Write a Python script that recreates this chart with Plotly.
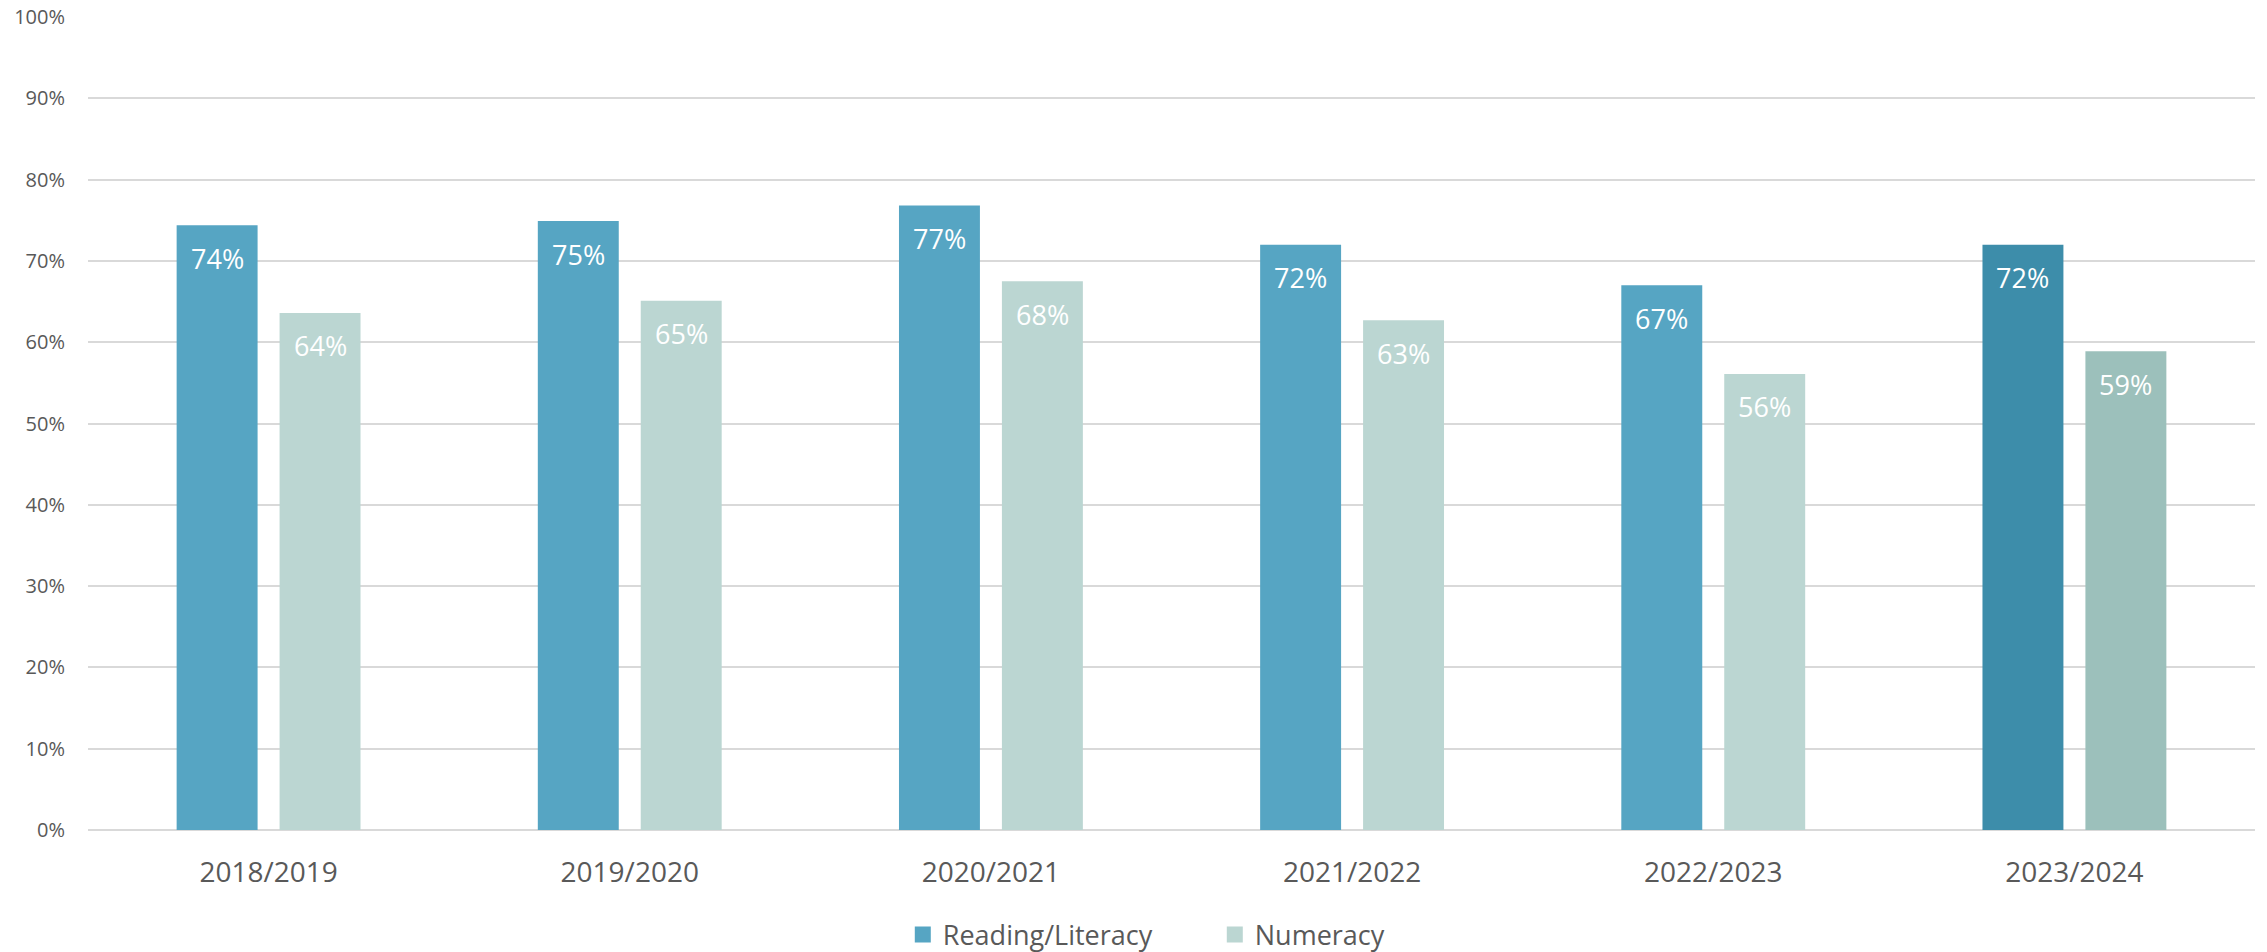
import plotly.graph_objects as go

years = ["2018/2019", "2019/2020", "2020/2021", "2021/2022", "2022/2023", "2023/2024"]
reading = [74.4, 74.9, 76.8, 72.0, 67.0, 72.0]
numeracy = [63.6, 65.1, 67.5, 62.7, 56.1, 58.9]
ytick_vals = [0, 10, 20, 30, 40, 50, 60, 70, 80, 90, 100]
ytick_text = [f"{v}%" for v in ytick_vals]

READ_C, READ_LAST = "#56A5C3", "#3D8DAA"
NUM_C, NUM_LAST = "#BBD6D2", "#9CC0BB"
read_colors = [READ_C] * (len(years) - 1) + [READ_LAST]
num_colors = [NUM_C] * (len(years) - 1) + [NUM_LAST]

FONT = "Open Sans"
TXT = "#595959"

fig = go.Figure()
fig.add_trace(go.Bar(x=years, y=reading, name="Reading/Literacy", showlegend=False,
                     marker=dict(color=read_colors, line=dict(width=0))))
fig.add_trace(go.Bar(x=years, y=numeracy, name="Numeracy", showlegend=False,
                     marker=dict(color=num_colors, line=dict(width=0))))
# legend entries with larger square swatches
for name, col in (("Reading/Literacy", READ_C), ("Numeracy", NUM_C)):
    fig.add_trace(go.Scatter(x=[None], y=[None], mode="markers", name=name,
                             marker=dict(symbol="square", size=17, color=col)))

annotations = []
for i, yr in enumerate(years):
    for vals, shift in ((reading, -51.5), (numeracy, 51.5)):
        annotations.append(dict(
            x=yr, y=vals[i], xref="x", yref="y", text=f"{round(vals[i])}%",
            showarrow=False, xshift=shift, yshift=-33, yanchor="middle",
            font=dict(family=FONT, size=27, color="white")))

fig.update_layout(
    width=2267, height=952,
    margin=dict(l=88, r=12, t=17, b=122, autoexpand=False),
    paper_bgcolor="white", plot_bgcolor="white",
    barmode="group", bargap=0.43, bargroupgap=0.2136,
    font=dict(family=FONT, color=TXT),
    annotations=annotations,
    legend=dict(orientation="h", x=0.376, xanchor="left", y=-0.129, yanchor="middle",
                font=dict(family=FONT, size=27, color=TXT),
                entrywidth=267, entrywidthmode="pixels", itemwidth=30),
    showlegend=True,
)
fig.update_xaxes(tickfont=dict(family=FONT, size=28, color=TXT), showline=False,
                 ticks="", ticklabelstandoff=23)
fig.update_yaxes(range=[0, 100], tickvals=ytick_vals, ticktext=ytick_text,
                 tickfont=dict(family=FONT, size=20, color=TXT),
                 showgrid=True, gridcolor="#D9D9D9", gridwidth=1.5,
                 zeroline=True, zerolinecolor="#D9D9D9", zerolinewidth=1.5,
                 ticks="", ticklabelstandoff=22)

fig.write_html("out.html")
